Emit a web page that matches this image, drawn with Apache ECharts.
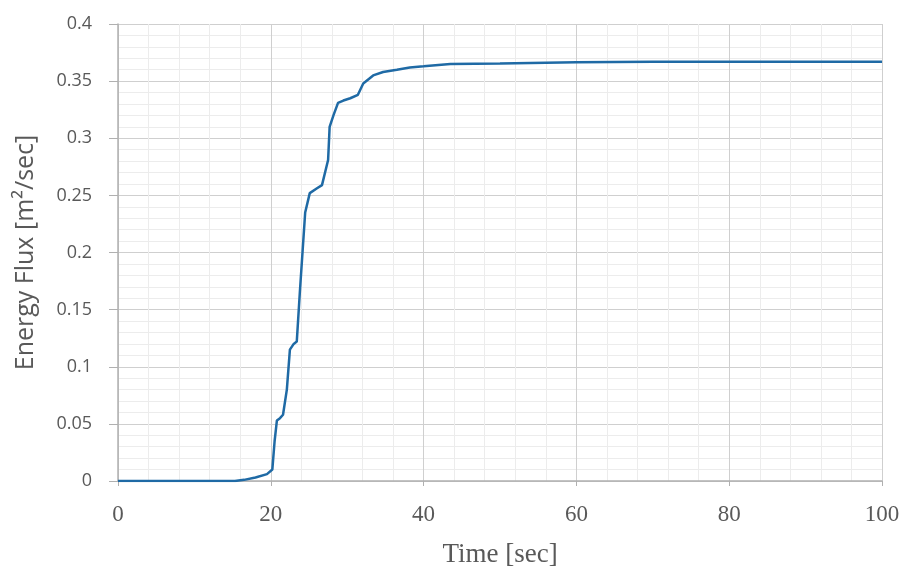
<!DOCTYPE html>
<html>
<head>
<meta charset="utf-8">
<script src="https://cdn.jsdelivr.net/npm/echarts@6/dist/echarts.min.js"></script>
<style>html,body{margin:0;padding:0;background:#fff}#c{width:908px;height:570px}</style>
</head>
<body>
<div id="c"></div>
<script>
const timeSec = [0, 5, 10, 14, 15.3, 16.5, 18, 19.5, 20.2, 20.5, 20.8, 21.2, 21.6, 22.1, 22.5, 23.0, 23.4, 23.8, 24.5, 25.1, 26.0, 26.7, 27.5, 27.7, 28.2, 28.8, 29.5, 30.4, 31.4, 32.1, 33.4, 34.7, 36.5, 38.2, 40, 43.5, 50, 60, 70, 80, 90, 100];
const energyFlux = [0, 0, 0, 0, 0, 0.001, 0.003, 0.006, 0.01, 0.035, 0.053, 0.055, 0.058, 0.08, 0.115, 0.12, 0.122, 0.165, 0.235, 0.252, 0.256, 0.259, 0.281, 0.31, 0.32, 0.331, 0.333, 0.335, 0.338, 0.348, 0.355, 0.358, 0.36, 0.362, 0.363, 0.365, 0.3655, 0.3665, 0.367, 0.367, 0.367, 0.367];
const xTitle = 'Time [sec]';
const yTitle = 'Energy Flux [m²/sec]';

const chart = echarts.init(document.getElementById('c'), null, {renderer: 'canvas'});
chart.setOption({
  animation: false,
  backgroundColor: '#fff',
  grid: {left: 118, right: 26, top: 24, bottom: 89, containLabel: false, outerBoundsMode: 'none'},
  xAxis: {
    type: 'value', min: 0, max: 100, interval: 20,
    name: xTitle, nameLocation: 'middle', nameGap: 60,
    nameTextStyle: {fontFamily: 'Liberation Serif', fontSize: 27, color: '#595959'},
    axisLine: {show: true, lineStyle: {color: '#b0b0b0', width: 1.5}},
    axisTick: {show: true, length: 5, lineStyle: {color: '#b0b0b0'}},
    axisLabel: {fontFamily: 'Liberation Serif', fontSize: 23, color: '#595959', margin: 22},
    splitLine: {show: true, lineStyle: {color: '#cfcfcf', width: 1}},
    minorTick: {show: false, splitNumber: 5},
    minorSplitLine: {show: true, lineStyle: {color: '#ececec', width: 1}}
  },
  yAxis: {
    type: 'value', min: 0, max: 0.4, interval: 0.05,
    name: yTitle, nameLocation: 'middle', nameGap: 80, nameRotate: 90,
    nameTextStyle: {fontFamily: 'Open Sans', fontSize: 25, color: '#595959'},
    axisLine: {show: true, lineStyle: {color: '#b0b0b0', width: 1.5}},
    axisTick: {show: true, length: 9, lineStyle: {color: '#b0b0b0'}},
    axisLabel: {fontFamily: 'Open Sans', fontSize: 18, color: '#595959', margin: 26},
    splitLine: {show: true, lineStyle: {color: '#cfcfcf', width: 1}},
    minorTick: {show: false, splitNumber: 5},
    minorSplitLine: {show: true, lineStyle: {color: '#ececec', width: 1}}
  },
  series: [{
    type: 'line',
    data: timeSec.map((t, i) => [t, energyFlux[i]]),
    showSymbol: false,
    smooth: false,
    lineStyle: {color: '#1f6aa5', width: 2.5},
    itemStyle: {color: '#1f6aa5'}
  }]
});
</script>
</body>
</html>
